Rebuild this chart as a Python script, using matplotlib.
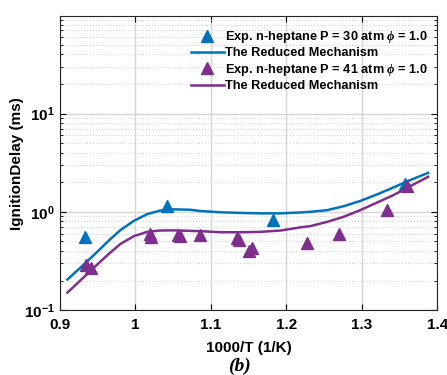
import matplotlib
matplotlib.use('Agg')
import matplotlib.pyplot as plt
from matplotlib.lines import Line2D

# experimental points
exp30_x = [0.933, 1.042, 1.182, 1.357]
exp30_y = [0.556, 1.15, 0.82, 1.93]
exp41_x = [0.935, 0.941, 1.019, 1.021, 1.057, 1.059, 1.086, 1.135, 1.138,
           1.150, 1.154, 1.227, 1.270, 1.333, 1.360]
exp41_y = [0.29, 0.27, 0.60, 0.557, 0.58, 0.57, 0.58, 0.54, 0.52,
           0.40, 0.43, 0.48, 0.59, 1.04, 1.85]

# reduced mechanism curves
mech_x = [0.91, 0.927, 0.945, 0.963, 0.98, 0.998, 1.016, 1.033, 1.051, 1.073,
          1.086, 1.113, 1.139, 1.165, 1.192, 1.218, 1.232, 1.254, 1.276, 1.298,
          1.32, 1.342, 1.364, 1.388]
mech30_y = [0.205, 0.27, 0.363, 0.495, 0.651, 0.81, 0.95, 1.03, 1.06, 1.05,
            1.02, 0.99, 0.975, 0.965, 0.965, 0.985, 1.0, 1.04, 1.14, 1.29,
            1.50, 1.77, 2.10, 2.49]
mech41_y = [0.151, 0.20, 0.27, 0.363, 0.47, 0.566, 0.626, 0.646, 0.648, 0.64,
            0.636, 0.62, 0.62, 0.625, 0.645, 0.694, 0.716, 0.79, 0.89, 1.04,
            1.24, 1.48, 1.82, 2.27]

xticks = [0.9, 1.0, 1.1, 1.2, 1.3, 1.4]
xticklabels = ['0.9', '1', '1.1', '1.2', '1.3', '1.4']

blue = '#0072BD'
purple = '#7E2F8E'

plt.rcParams['font.family'] = ['Liberation Sans', 'DejaVu Sans']
plt.rcParams['font.weight'] = 'bold'
plt.rcParams['mathtext.fontset'] = 'custom'
plt.rcParams['mathtext.it'] = 'Liberation Serif:italic'

fig = plt.figure(figsize=(4.47, 3.75), dpi=100)
ax = fig.add_axes([0.134, 0.173, 0.844, 0.784])

ax.plot(exp30_x, exp30_y, linestyle='none', marker='^', color=blue, markersize=9)
ax.plot(mech_x, mech30_y, color=blue, linewidth=1.8, solid_joinstyle='round')
ax.plot(exp41_x, exp41_y, linestyle='none', marker='^', color=purple, markersize=9)
ax.plot(mech_x, mech41_y, color=purple, linewidth=1.8, solid_joinstyle='round')

ax.set_yscale('log')
ax.set_xlim(0.9, 1.4)
ax.set_ylim(0.1, 98)
ax.set_xticks(xticks)
ax.set_xticklabels(xticklabels)
ax.set_yticks([0.1, 1, 10])

ax.grid(True, which='major', color='#d4d4d4', linewidth=1.0)
ax.grid(True, which='minor', axis='y', color='#d8d8d8', linestyle=':', linewidth=0.8)
ax.set_axisbelow(True)
ax.tick_params(which='both', direction='in', top=True, right=True, labelsize=11)
ax.tick_params(axis='x', pad=6)
ax.tick_params(which='major', length=4)
ax.tick_params(which='minor', length=2)
for s in ax.spines.values():
    s.set_color('#262626')

ax.set_xlabel('1000/T (1/K)', fontsize=11, fontweight='bold', labelpad=6)
ax.set_ylabel('IgnitionDelay (ms)', fontsize=11, fontweight='bold', labelpad=0)
fig.text(0.535, 0.01, '(b)', fontsize=14, fontweight='bold', fontstyle='italic',
         family='Liberation Serif', ha='center')

handles = [
    Line2D([], [], linestyle='none', marker='^', color=blue, markersize=9),
    Line2D([], [], color=blue, linewidth=1.8),
    Line2D([], [], linestyle='none', marker='^', color=purple, markersize=9),
    Line2D([], [], color=purple, linewidth=1.8),
]
labels = [
    r'Exp. n-heptane P = 30 atm $\phi$ = 1.0',
    'The Reduced Mechanism',
    r'Exp. n-heptane P = 41 atm $\phi$ = 1.0',
    'The Reduced Mechanism',
]
ax.legend(handles, labels, loc='upper right', bbox_to_anchor=(1.0, 0.986),
          frameon=False, handlelength=2.6, handletextpad=0.1, labelspacing=0.18,
          borderaxespad=0.3, prop={'weight': 'bold', 'size': 9.2})

fig.savefig('out.png', dpi=100)
